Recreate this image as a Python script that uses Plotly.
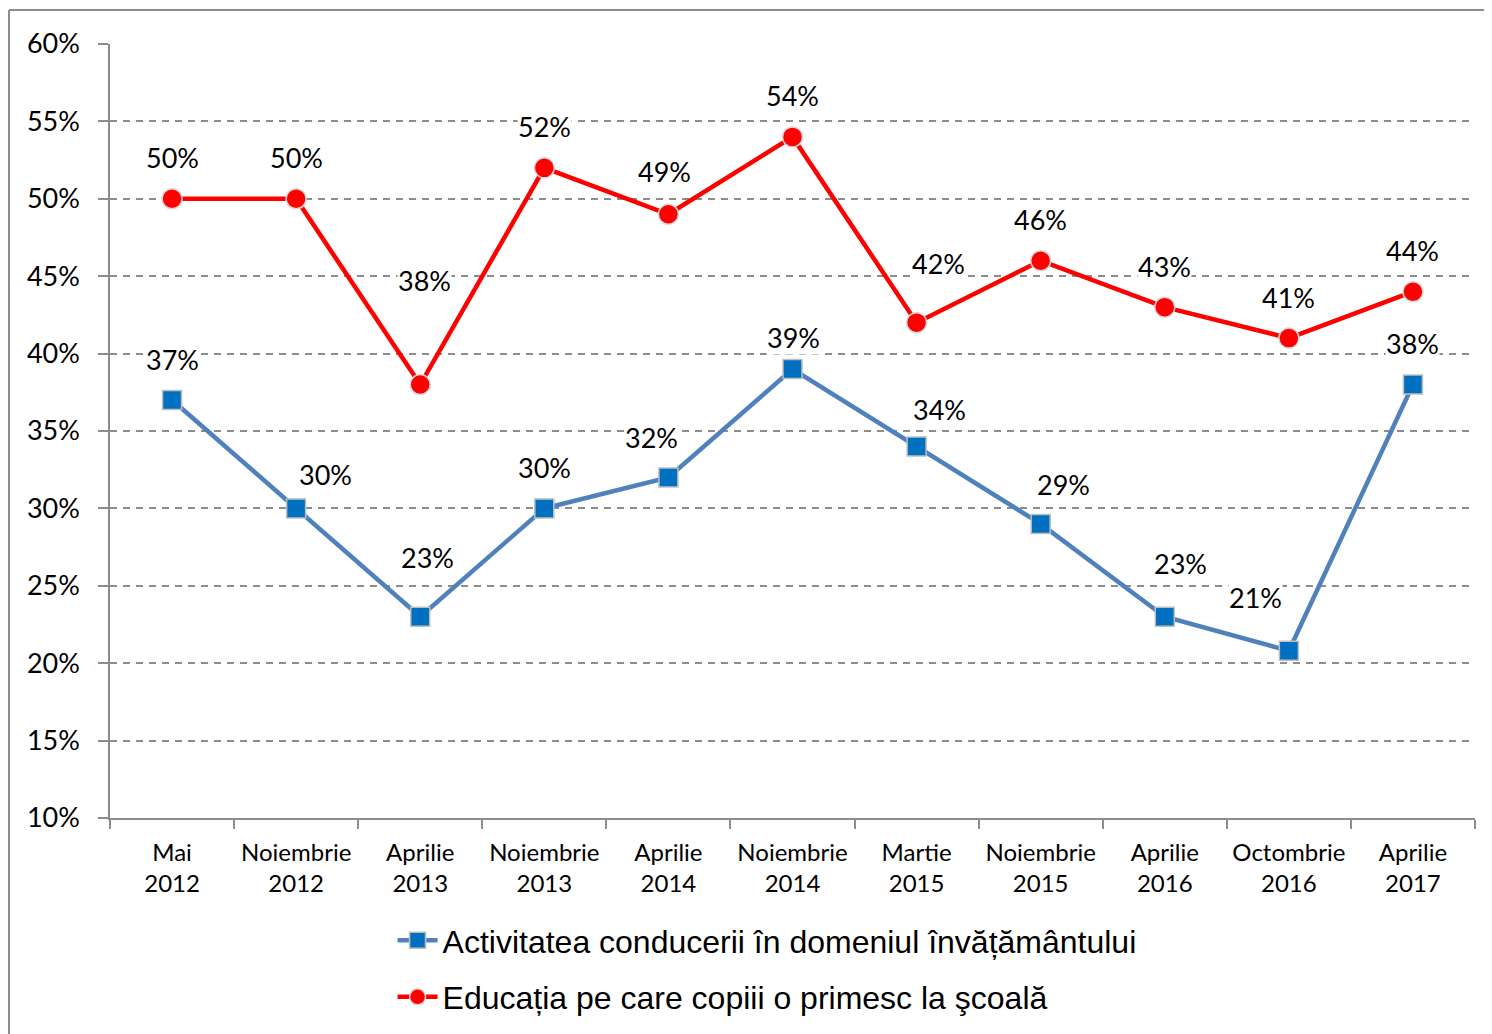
import plotly.graph_objects as go

categories = ["Mai<br>2012", "Noiembrie<br>2012", "Aprilie<br>2013", "Noiembrie<br>2013",
              "Aprilie<br>2014", "Noiembrie<br>2014", "Martie<br>2015", "Noiembrie<br>2015",
              "Aprilie<br>2016", "Octombrie<br>2016", "Aprilie<br>2017"]
blue_values = [37, 30, 23, 30, 32, 39, 34, 29, 23, 20.8, 38]
blue_labels = ["37%", "30%", "23%", "30%", "32%", "39%", "34%", "29%", "23%", "21%", "38%"]
red_values = [50, 50, 38, 52, 49, 54, 42, 46, 43, 41, 44]
red_labels = ["50%", "50%", "38%", "52%", "49%", "54%", "42%", "46%", "43%", "41%", "44%"]
blue_name = "Activitatea conducerii în domeniul învățământului"
red_name = "Educația pe care copiii o primesc la şcoală"

# label offsets (pixels) for placement of data labels
blue_dx = [0, 29, 7, 0, -17, 1, 23, 23, 16, -33, 0]
blue_dy = [41, 34, 59, 41, 40, 32, 37, 39, 53, 53, 41]
red_dx = [0, 0, 4, 0, -4, 0, 22, 0, 0, 0, 0]
red_dy = [41, 41, 104, 41, 43, 41, 59, 41, 41, 41, 41]

label_font = dict(family="Lato, Open Sans, sans-serif", size=27, color="black")

fig = go.Figure()
fig.add_trace(go.Scatter(
    x=categories, y=blue_values, name=blue_name, mode="lines+markers", legendgroup="a",
    line=dict(color="#4F81BD", width=4.5),
    marker=dict(symbol="square", size=19, color="#0070C0", line=dict(color="#BFBFBF", width=1.5)),
))
fig.add_trace(go.Scatter(
    x=categories, y=red_values, name=red_name, mode="lines+markers", legendgroup="b",
    line=dict(color="#FF0000", width=4.5),
    marker=dict(symbol="circle", size=20, color="#FF0000", line=dict(color="#D9D9D9", width=1.5)),
))

for xs, ys, labs, dxs, dys in [(categories, blue_values, blue_labels, blue_dx, blue_dy),
                               (categories, red_values, red_labels, red_dx, red_dy)]:
    for x, y, t, dx, dy in zip(xs, ys, labs, dxs, dys):
        fig.add_annotation(x=x, y=y, text=t, showarrow=False, xshift=dx, yshift=dy,
                           font=label_font, bgcolor="white", borderpad=0)

fig.update_layout(
    width=1484, height=1026,
    margin=dict(l=102, r=17, t=36, b=216, autoexpand=False),
    plot_bgcolor="white", paper_bgcolor="white",
    showlegend=True,
    legend=dict(orientation="v", x=0.207, y=0.118, xref="paper", yref="container",
                xanchor="left", yanchor="top", traceorder="grouped",
                font=dict(family="Liberation Sans, Arial, sans-serif", size=32, color="black"),
                tracegroupgap=12, itemwidth=40, bgcolor="rgba(0,0,0,0)"),
    shapes=[
        dict(type="line", xref="paper", yref="paper", x0=-0.0740, x1=-0.0740, y0=1.044, y1=-0.4,
             line=dict(color="#8C8C8C", width=2)),
        dict(type="line", xref="paper", yref="paper", x0=-0.0740, x1=1.02, y0=1.044, y1=1.044,
             line=dict(color="#8C8C8C", width=2)),
    ],
)
fig.update_xaxes(
    type="category", tickson="boundaries", ticks="outside", ticklen=9, tickcolor="#8C8C8C",
    tickwidth=1.5, showline=True, linecolor="#8C8C8C", linewidth=1.5, showgrid=False,
    tickfont=dict(family="Lato, Open Sans, sans-serif", size=24, color="black"),
    ticklabelstandoff=12,
    range=[-0.5, 10.5],
)
fig.update_yaxes(
    range=[10, 60], dtick=5, ticksuffix="%", ticks="outside", ticklen=10, tickcolor="#8C8C8C",
    tickwidth=1.5, showline=True, linecolor="#8C8C8C", linewidth=1.5,
    showgrid=True, gridcolor="#8C8C8C", gridwidth=1.5, griddash="7px,6px",
    tickfont=dict(family="Lato, Open Sans, sans-serif", size=27, color="black"),
    ticklabelstandoff=13,
    zeroline=False,
)

fig.write_html("out.html")
